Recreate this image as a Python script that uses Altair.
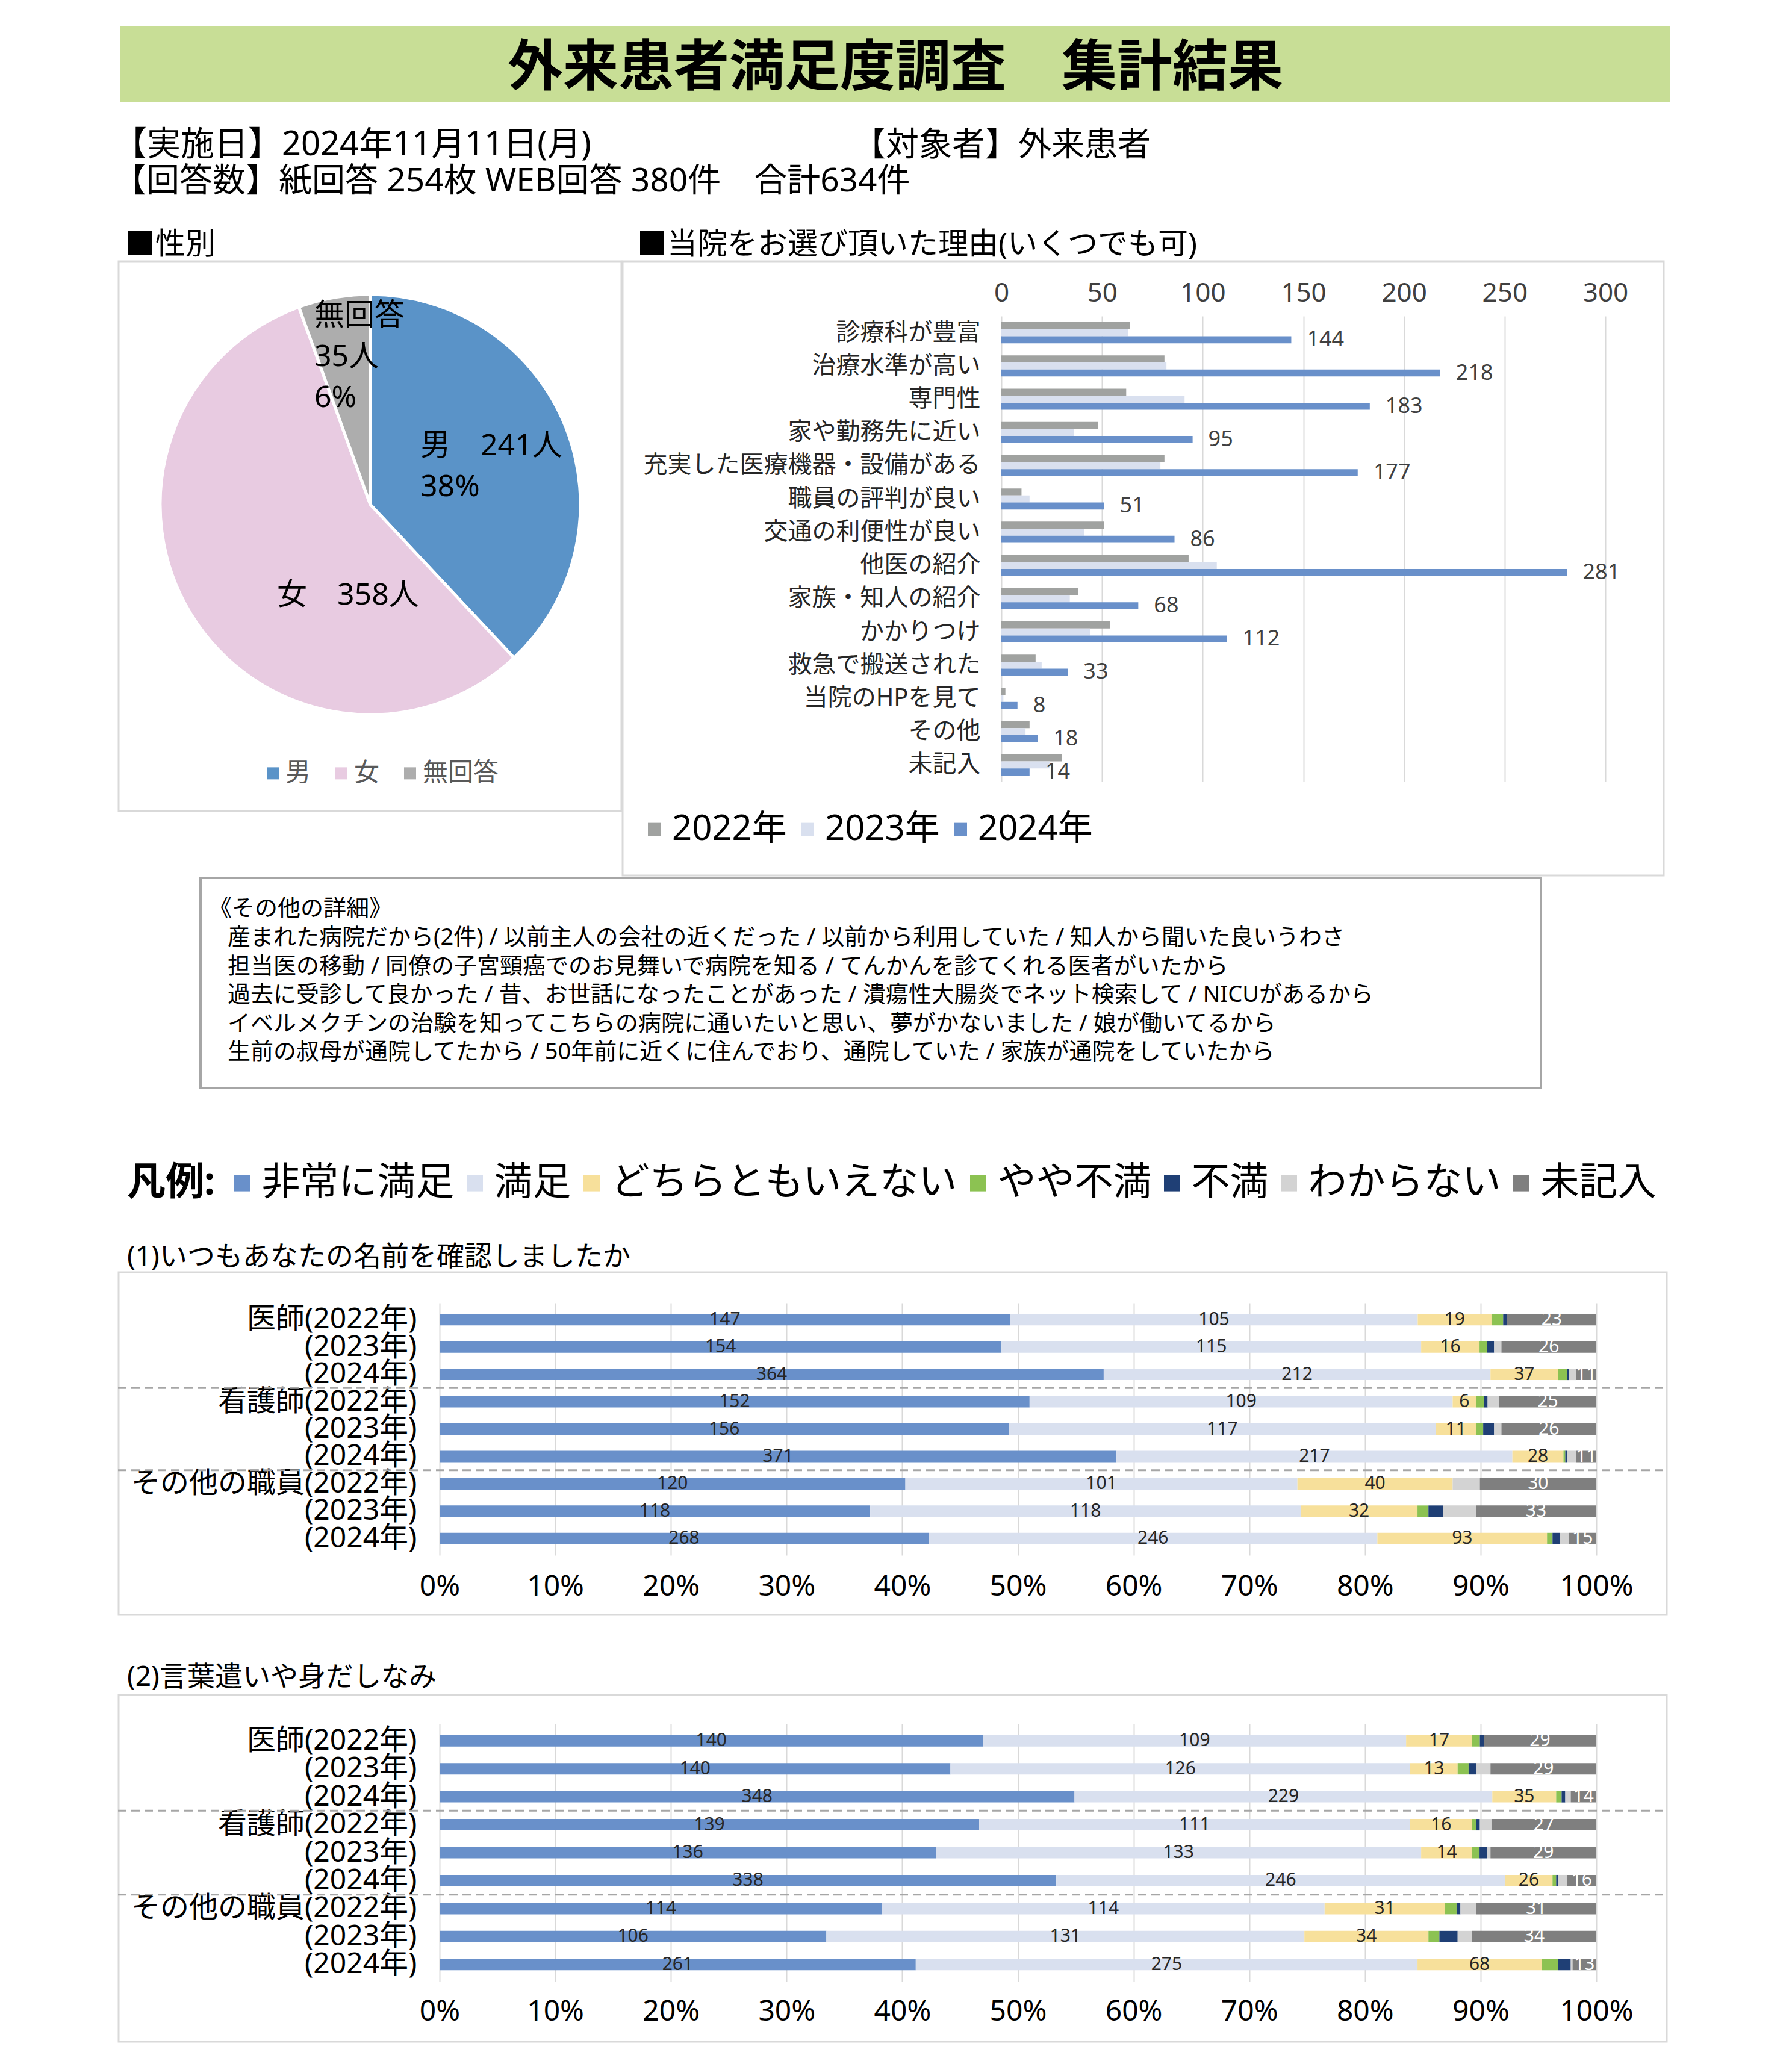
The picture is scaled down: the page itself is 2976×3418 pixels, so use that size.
import altair as alt
import pandas as pd

FONT = "'Noto Sans', 'Noto Sans CJK JP'"

# ---------------- texts ----------------
title_text = "外来患者満足度調査　集計結果"
header_date = "【実施日】2024年11月11日(月)"
header_target = "【対象者】外来患者"
header_count = "【回答数】紙回答 254枚 WEB回答 380件　合計634件"
gender_heading = "■性別"
reason_heading = "■当院をお選び頂いた理由(いくつでも可)"

# ---------------- gender pie ----------------
gender_labels = ["男", "女", "無回答"]
gender_counts = [241, 358, 35]
gender_colors = ["#5A93C8", "#E8CBE1", "#ADADAD"]

# ---------------- reasons bar ----------------
reasons = ["診療科が豊富", "治療水準が高い", "専門性", "家や勤務先に近い",
           "充実した医療機器・設備がある", "職員の評判が良い", "交通の利便性が良い",
           "他医の紹介", "家族・知人の紹介", "かかりつけ", "救急で搬送された",
           "当院のHPを見て", "その他", "未記入"]
years = ["2022年", "2023年", "2024年"]
reasons_2022 = [64, 81, 62, 48, 81, 10, 51, 93, 38, 54, 17, 2, 14, 30]
reasons_2023 = [63, 82, 91, 36, 79, 14, 41, 107, 34, 44, 20, 1, 12, 24]
reasons_2024 = [144, 218, 183, 95, 177, 51, 86, 281, 68, 112, 33, 8, 18, 14]
year_colors = ["#A0A2A0", "#D9E0EF", "#6990CA"]
reason_ticks = [0, 50, 100, 150, 200, 250, 300]

# ---------------- other details ----------------
other_title = "《その他の詳細》"
other_lines = [
    "産まれた病院だから(2件) / 以前主人の会社の近くだった / 以前から利用していた / 知人から聞いた良いうわさ",
    "担当医の移動 / 同僚の子宮頸癌でのお見舞いで病院を知る / てんかんを診てくれる医者がいたから",
    "過去に受診して良かった / 昔、お世話になったことがあった / 潰瘍性大腸炎でネット検索して / NICUがあるから",
    "イベルメクチンの治験を知ってこちらの病院に通いたいと思い、夢がかないました / 娘が働いてるから",
    "生前の叔母が通院してたから / 50年前に近くに住んでおり、通院していた / 家族が通院をしていたから",
]

# ---------------- satisfaction ----------------
legend_head = "凡例:"
sat_levels = ["非常に満足", "満足", "どちらともいえない", "やや不満", "不満", "わからない", "未記入"]
sat_colors = ["#6990CA", "#D9E0EF", "#F7E09B", "#8CC252", "#1F3F75", "#D3D3D3", "#7F7F7F"]
labeled_levels = ["非常に満足", "満足", "どちらともいえない", "未記入"]
row_labels = ["医師(2022年)", "(2023年)", "(2024年)",
              "看護師(2022年)", "(2023年)", "(2024年)",
              "その他の職員(2022年)", "(2023年)", "(2024年)"]
group_size = 3
pct_ticks = [0, 0.1, 0.2, 0.3, 0.4, 0.5, 0.6, 0.7, 0.8, 0.9, 1.0]

q1_title = "(1)いつもあなたの名前を確認しましたか"
q1_counts = [
    [147, 105, 19, 3, 1, 0, 23],
    [154, 115, 16, 2, 2, 2, 26],
    [364, 212, 37, 5, 1, 4, 11],
    [152, 109, 6, 2, 1, 3, 25],
    [156, 117, 11, 2, 3, 2, 26],
    [371, 217, 28, 1, 1, 5, 11],
    [120, 101, 40, 0, 0, 7, 30],
    [118, 118, 32, 3, 4, 9, 33],
    [268, 246, 93, 3, 4, 5, 15],
]
q2_title = "(2)言葉遣いや身だしなみ"
q2_counts = [
    [140, 109, 17, 2, 1, 0, 29],
    [140, 126, 13, 3, 2, 4, 29],
    [348, 229, 35, 3, 2, 3, 14],
    [139, 111, 16, 1, 1, 3, 27],
    [136, 133, 14, 2, 2, 1, 29],
    [338, 246, 26, 2, 1, 5, 16],
    [114, 114, 31, 3, 1, 4, 31],
    [106, 131, 34, 3, 5, 4, 34],
    [261, 275, 68, 9, 7, 1, 13],
]

ONE = pd.DataFrame({"a": [0]})

# every section shares the same plot origin x (page px); sections span page x 8..2800
X0 = 730
PAGE_L, PAGE_R = 8, 2800
SEC_W = PAGE_R - X0


def box(x1, y1, x2, y2, ox, oy, **mk):
    return alt.Chart(ONE).mark_rect(**mk).encode(
        x=alt.value(x1 - ox), x2=alt.value(x2 - ox),
        y=alt.value(y1 - oy), y2=alt.value(y2 - oy))


def txt(text, x, y, ox, oy, size, baseline="middle", **mk):
    yy = y - oy + (0.08 * size if baseline == "middle" else 0)
    props = dict(font=FONT, fontSize=size, align="left", baseline=baseline, color="#000000")
    props.update(mk)
    return alt.Chart(pd.DataFrame({"t": [text]})).mark_text(**props).encode(
        text="t:N", x=alt.value(x - ox), y=alt.value(yy))


def legend(sym_left, center_y, ox, oy, n, side, size, color, gap, between):
    """Horizontal square-symbol legend; the first symbol's left edge at page x sym_left.
    Vega reserves a column of max(side, fontSize) for each symbol."""
    col = max(side, size)
    lead = (col - side) / 2.0
    sym_off = max(0.0, lead - gap)
    lab_off = max(0.0, gap - lead)
    cpad = max(0.0, between - lead - sym_off)
    return alt.Legend(orient="none", legendX=sym_left - lead - sym_off - ox,
                      legendY=center_y - col / 2.0 - oy + 0.08 * size,
                      direction="horizontal", columns=n,
                      title=None, symbolType="square", symbolSize=side * side, symbolStrokeWidth=0,
                      symbolOffset=sym_off, labelFont=FONT, labelFontSize=size, labelColor=color,
                      labelOffset=lab_off, columnPadding=cpad, padding=0, labelLimit=1000)


# ================= Section A : header (page y 8..432) =================
ox, oy = X0, 8
secA = alt.layer(
    box(PAGE_L, 8, PAGE_R, 432, ox, oy, opacity=0),
    box(200, 44, 2773, 170, ox, oy, color="#C8DE96"),
    txt(title_text, 1487, 107, ox, oy, 92, fontWeight="bold", align="center"),
    txt(header_date, 188, 237, ox, oy, 56),
    txt(header_target, 1416, 237, ox, oy, 55),
    txt(header_count, 188, 297, ox, oy, 55),
    txt(gender_heading, 208, 403, ox, oy, 50),
    txt(reason_heading, 1058, 403, ox, oy, 50),
).properties(width=SEC_W, height=424)

# ================= Section B : pie + reasons (page y 432..1454) =================
ox, oy = X0, 524          # plot origin; reasons bars drawn in page x 1663..2666
BAR_X0, BAR_X1 = 1663, 2666
PIE_CX, PIE_CY, PIE_R = 615, 837, 349

pie_df = pd.DataFrame({"label": gender_labels, "count": gender_counts,
                       "k": list(range(len(gender_labels)))})
total = sum(gender_counts)
pct = [round(c * 100 / total) for c in gender_counts]
pie_texts = [
    f"{gender_labels[0]}　{gender_counts[0]}人\n{pct[0]}%",
    f"{gender_labels[1]}　{gender_counts[1]}人",
    f"{gender_labels[2]}\n{gender_counts[2]}人\n{pct[2]}%",
]
pie_text_pos = [(698, 714.5), (460, 962.5), (522, 498.5)]

arc = alt.Chart(pie_df).mark_arc(outerRadius=PIE_R, stroke="white", strokeWidth=5).encode(
    theta=alt.Theta("count:Q", stack=True),
    order=alt.Order("k:Q"),
    color=alt.Color("label:N", sort=gender_labels,
                    scale=alt.Scale(domain=gender_labels, range=gender_colors),
                    legend=legend(443, 1280, ox, oy, 3, 20, 42, "#595959", 6, 40)),
    x=alt.value(PIE_CX - ox), y=alt.value(PIE_CY - oy))

recs = []
for yr, vals in zip(years, [reasons_2022, reasons_2023, reasons_2024]):
    for r, v in zip(reasons, vals):
        recs.append({"reason": r, "year": yr, "value": v})
rdf = pd.DataFrame(recs)

rx_axis = alt.Axis(orient="top", title=None, values=reason_ticks, grid=True, gridColor="#D9D9D9",
                   gridWidth=2, domain=False, ticks=False, labelFont=FONT, labelFontSize=44,
                   labelColor="#404040", labelPadding=16, labelFlush=False, labelOverlap=False)
ry_axis = alt.Axis(title=None, labelFont=FONT, labelFontSize=40, labelColor="#262626",
                   labelPadding=35, ticks=False, domain=False, labelLimit=1000,
                   offset=-(BAR_X0 - ox))
rx = alt.X("value:Q", scale=alt.Scale(domain=[0, 300], nice=False,
                                      range=[BAR_X0 - ox, BAR_X1 - ox]), axis=rx_axis)
ry = alt.Y("reason:N", sort=reasons, scale=alt.Scale(paddingInner=0.365, paddingOuter=0.1825), axis=ry_axis)
ryo = alt.YOffset("year:N", sort=years)

rbars = alt.Chart(rdf).mark_bar().encode(
    x=rx, y=ry, yOffset=ryo,
    color=alt.Color("year:N", sort=years, scale=alt.Scale(domain=years, range=year_colors),
                    legend=legend(1076, 1372, ox, oy, 3, 22, 58, "#000000", 13, 22)))
rvals = alt.Chart(rdf).transform_filter(alt.datum.year == years[-1]).mark_text(
    align="left", dx=26, font=FONT, fontSize=36, color="#404040", baseline="middle").encode(
    x=rx, y=ry, yOffset=ryo, text="value:Q")

b_layers = [
    box(PAGE_L, 432, PAGE_R, 1454, ox, oy, opacity=0),
    box(197, 433, 1032, 1346, ox, oy, fill="transparent", stroke="#D9D9D9", strokeWidth=3),
    box(1034, 433, 2763, 1453, ox, oy, fill="transparent", stroke="#D9D9D9", strokeWidth=3),
    arc, rbars, rvals,
]
for t, (px, py) in zip(pie_texts, pie_text_pos):
    b_layers.append(txt(t, px, py, ox, oy, 50, baseline="top", lineBreak="\n", lineHeight=68))
secB = alt.layer(*b_layers).resolve_scale(color="independent").properties(width=SEC_W, height=773)

# ================= Section C : other details (page y 1454..1880) =================
ox, oy = X0, 1454
c_layers = [box(PAGE_L, 1454, PAGE_R, 1880, ox, oy, opacity=0),
            box(333, 1456, 2559, 1805, ox, oy, fill="transparent", stroke="#A6A6A6", strokeWidth=4),
            txt(other_title, 347, 1505, ox, oy, 38)]
for i, line in enumerate(other_lines):
    c_layers.append(txt(line, 378, 1553 + i * 47.5, ox, oy, 38))
secC = alt.layer(*c_layers).properties(width=SEC_W, height=426)

# ================= Sections D / E : satisfaction =================
PLOT_W = 1921


def stacked_section(title, counts, plot_top, plot_h, sec_top, sec_bottom, frame_top, frame_bottom,
                    title_y, label_pad, with_legend):
    ox, oy = X0, plot_top
    recs = []
    for i, row in enumerate(counts):
        for k, v in enumerate(row):
            recs.append({"row": i, "level": sat_levels[k], "k": k, "count": v,
                         "show": bool(sat_levels[k] in labeled_levels and v > 0)})
    df = pd.DataFrame(recs)
    n = len(counts)
    x_scale = alt.Scale(domain=[0, 1], nice=False, range=[0, PLOT_W])
    y_scale = alt.Scale(domain=[-0.5, n - 0.5], reverse=True, nice=False, zero=False)
    label_expr = "[" + ",".join("'" + s + "'" for s in row_labels) + "][datum.value]"
    x_axis = alt.Axis(format=".0%", values=pct_ticks, title=None, grid=True, gridColor="#D9D9D9",
                      gridWidth=2, domain=False, ticks=False, labelFont=FONT, labelFontSize=48,
                      labelColor="#000000", labelPadding=label_pad, labelFlush=False, labelOverlap=False)
    y_axis = alt.Axis(values=list(range(n)), labelExpr=label_expr, title=None, grid=False,
                      ticks=False, domain=False, labelFont=FONT, labelFontSize=48,
                      labelColor="#000000", labelPadding=38, labelLimit=1000, labelOverlap=False)
    if with_legend:
        leg = legend(389, 1958, ox, oy, len(sat_levels), 27, 64, "#000000", 18, 20)
    else:
        leg = None
    bars = alt.Chart(df).mark_bar(orient="horizontal", size=19).encode(
        x=alt.X("count:Q", stack="normalize", scale=x_scale, axis=x_axis),
        y=alt.Y("row:Q", scale=y_scale, axis=y_axis),
        color=alt.Color("level:N", sort=sat_levels,
                        scale=alt.Scale(domain=sat_levels, range=sat_colors), legend=leg),
        order=alt.Order("k:Q"))
    labels = alt.Chart(df).transform_joinaggregate(
        total="sum(count)", groupby=["row"]
    ).transform_window(
        cum="sum(count)", sort=[alt.SortField("k", order="ascending")], groupby=["row"], frame=[None, 0]
    ).transform_calculate(
        mid="(datum.cum - datum.count / 2) / datum.total"
    ).transform_filter("datum.show").mark_text(
        font=FONT, fontSize=30, baseline="middle", align="center").encode(
        x=alt.X("mid:Q", scale=x_scale, axis=x_axis),
        y=alt.Y("row:Q", scale=y_scale, axis=y_axis),
        text="count:Q",
        color=alt.condition(alt.datum.level == sat_levels[-1], alt.value("#FFFFFF"), alt.value("#262626")))
    breaks = pd.DataFrame({"pos": [g * group_size - 0.5 for g in range(1, n // group_size)]})
    seps = alt.Chart(breaks).mark_rule(color="#A6A6A6", strokeWidth=3, strokeDash=[14, 8]).encode(
        y=alt.Y("pos:Q", scale=y_scale, axis=y_axis),
        x=alt.value(196 - ox), x2=alt.value(2769 - ox))
    layers = [
        box(PAGE_L, sec_top, PAGE_R, sec_bottom, ox, oy, opacity=0),
        box(197, frame_top, 2768, frame_bottom, ox, oy, fill="transparent", stroke="#D9D9D9", strokeWidth=3),
        seps, bars, labels,
        txt(title, 211, title_y, ox, oy, 46),
    ]
    if with_legend:
        layers.append(txt(legend_head, 211, 1958, ox, oy, 64, fontWeight="bold"))
    return alt.layer(*layers).properties(width=PLOT_W, height=plot_h)


secD = stacked_section(q1_title, q1_counts, 2162, 419, 1880, 2740, 2111, 2680, 2082, 28, True)
secE = stacked_section(q2_title, q2_counts, 2861, 428, 2740, 3400, 2813, 3389, 2780, 26, False)

chart = alt.vconcat(secA, secB, secC, secD, secE, spacing=0).resolve_scale(
    color="independent").properties(padding=0).configure(font=FONT).configure_view(stroke=None)

chart.save("out.html", embed_options={"renderer": "svg", "actions": False})
